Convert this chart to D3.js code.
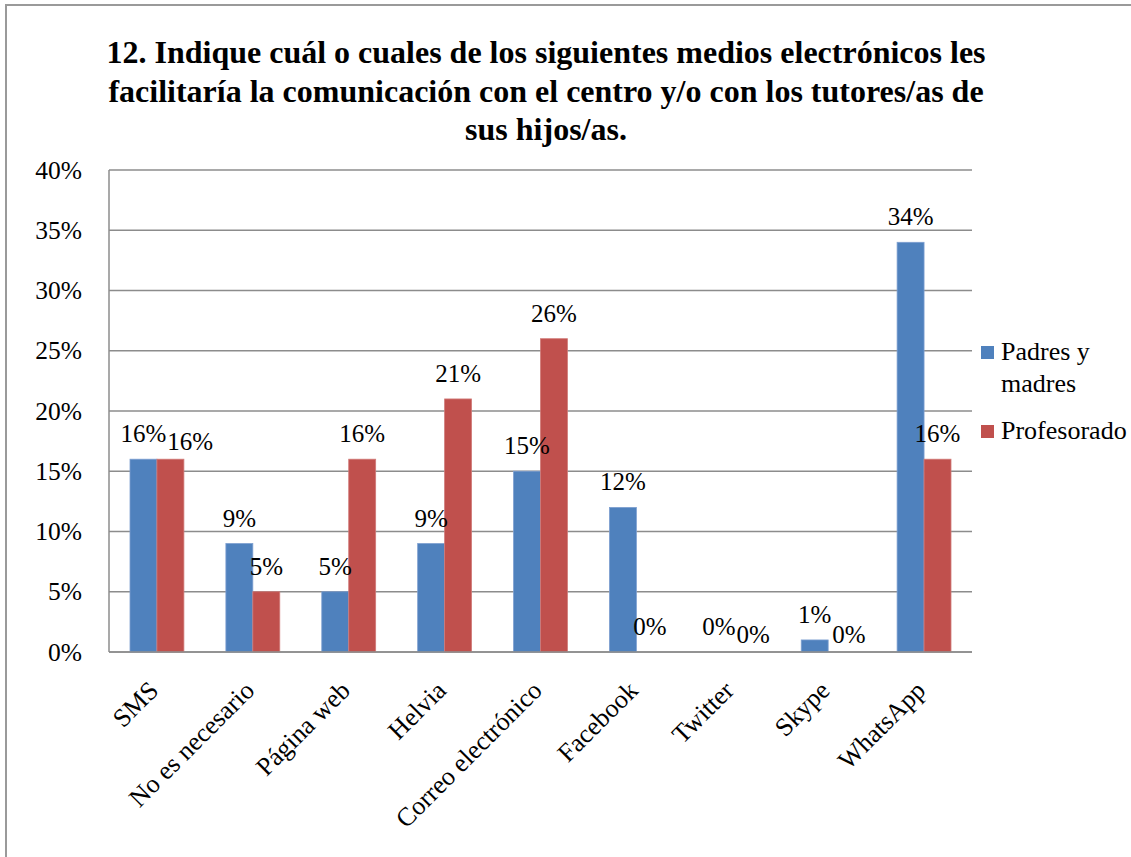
<!DOCTYPE html>
<html>
<head>
<meta charset="utf-8">
<script src="https://cdn.jsdelivr.net/npm/d3@7"></script>
<style>
  html, body { margin: 0; padding: 0; background: #fff; }
  svg { display: block; }
  text { font-family: "Liberation Serif", "Times New Roman", Times, serif; fill: #000; }
</style>
</head>
<body>
<svg id="chart" width="1131" height="857"></svg>
<script>
const titleLines = [
  "12. Indique cuál o cuales de los siguientes medios electrónicos les",
  "facilitaría la comunicación con el centro y/o con los tutores/as de",
  "sus hijos/as."
];
const categories = ["SMS", "No es necesario", "Página web", "Helvia", "Correo electrónico", "Facebook", "Twitter", "Skype", "WhatsApp"];
const seriesNames = ["Padres y madres", "Profesorado"];
const padres = [0.16, 0.09, 0.05, 0.09, 0.15, 0.12, 0.00, 0.01, 0.34];
const profesorado = [0.16, 0.05, 0.16, 0.21, 0.26, 0.00, 0.00, 0.00, 0.16];
const yTicks = [0, 0.05, 0.10, 0.15, 0.20, 0.25, 0.30, 0.35, 0.40];
const colors = ["#4F81BD", "#C0504D"];

const svg = d3.select("#chart");
const W = 1131, H = 857;
const plot = { left: 109, right: 972, top: 170, bottom: 652 };
const FONT = '"Liberation Serif", "Times New Roman", Times, serif';

// outer chart border
svg.append("rect")
  .attr("x", 6).attr("y", 5)
  .attr("width", W + 20).attr("height", H + 20)
  .attr("fill", "#fff").attr("stroke", "#9a9a9a").attr("stroke-width", 2);

// title
svg.append("g").selectAll("text").data(titleLines).join("text")
  .attr("x", 546).attr("y", (d, i) => 63 + i * 38.5)
  .attr("text-anchor", "middle")
  .attr("font-size", 32).attr("font-weight", "bold")
  .text(d => d);

const x0 = d3.scaleBand().domain(categories).range([plot.left, plot.right])
  .paddingInner(0.438).paddingOuter(0.219);
const x1 = d3.scaleBand().domain([0, 1]).range([0, x0.bandwidth()]);
const y = d3.scaleLinear().domain([0, 0.40]).range([plot.bottom, plot.top]);

// gridlines
svg.append("g").selectAll("line").data(yTicks).join("line")
  .attr("x1", plot.left).attr("x2", plot.right)
  .attr("y1", d => y(d)).attr("y2", d => y(d))
  .attr("stroke", "#8c8c8c").attr("stroke-width", 1.5);

// y axis line
svg.append("line")
  .attr("x1", plot.left).attr("x2", plot.left)
  .attr("y1", plot.top).attr("y2", plot.bottom)
  .attr("stroke", "#8c8c8c").attr("stroke-width", 1.5);

// y axis labels
const yAxis = d3.axisLeft(y).tickValues(yTicks).tickFormat(d3.format(".0%")).tickSize(0).tickPadding(27);
const yg = svg.append("g").attr("transform", `translate(${plot.left},0)`).call(yAxis);
yg.select(".domain").remove();
yg.attr("font-family", FONT);
yg.selectAll("text").attr("font-size", 25.5).attr("fill", "#000");

// bars
const data = categories.map((c, i) => ({ c, vals: [padres[i], profesorado[i]] }));
const groups = svg.append("g").selectAll("g").data(data).join("g")
  .attr("transform", d => `translate(${x0(d.c)},0)`);

groups.selectAll("rect").data(d => d.vals.map((v, k) => ({ v, k }))).join("rect")
  .attr("x", d => x1(d.k)).attr("width", x1.bandwidth())
  .attr("y", d => y(d.v)).attr("height", d => y(0) - y(d.v))
  .attr("fill", d => colors[d.k])
  .attr("stroke", d => d.k === 0 ? "#7d9fd0" : "#d07a78").attr("stroke-width", 0.8);

// x axis line (on top of bars)
svg.append("line")
  .attr("x1", plot.left).attr("x2", plot.right)
  .attr("y1", plot.bottom).attr("y2", plot.bottom)
  .attr("stroke", "#8c8c8c").attr("stroke-width", 1.5);

// data labels, nudging the second label of a group when the two collide
groups.each(function (d) {
  const g = d3.select(this);
  const labels = d.vals.map((v, k) => {
    const t = g.append("text")
      .attr("x", x1(k) + x1.bandwidth() / 2)
      .attr("y", y(v) - 17)
      .attr("text-anchor", "middle")
      .attr("font-size", 25)
      .text(d3.format(".0%")(v));
    return t;
  });
  const b0 = labels[0].node().getBBox(), b1 = labels[1].node().getBBox();
  const overlapX = b0.x + b0.width + 1 - b1.x;
  const overlapY = Math.min(b0.y + b0.height, b1.y + b1.height) - Math.max(b0.y, b1.y);
  if (overlapX > 0 && overlapY > 0) {
    labels[1].attr("x", +labels[1].attr("x") + overlapX)
      .attr("y", +labels[1].attr("y") + 8);
  }
});

// x axis labels
svg.append("g").selectAll("text").data(categories).join("text")
  .attr("transform", d => `translate(${x0(d) + x0.bandwidth() / 2 + 3},${692}) rotate(-45)`)
  .attr("text-anchor", "end")
  .attr("font-size", 26)
  .text(d => d);

// legend
const legend = svg.append("g");
const legendItems = [
  { name: ["Padres y", "madres"], color: colors[0], y: 346 },
  { name: ["Profesorado"], color: colors[1], y: 425 }
];
legendItems.forEach(it => {
  legend.append("rect").attr("x", 981).attr("y", it.y).attr("width", 13).attr("height", 13).attr("fill", it.color);
  it.name.forEach((ln, j) => {
    legend.append("text").attr("x", 1001).attr("y", it.y + 14 + j * 32)
      .attr("font-size", 26).text(ln);
  });
});
</script>
</body>
</html>
